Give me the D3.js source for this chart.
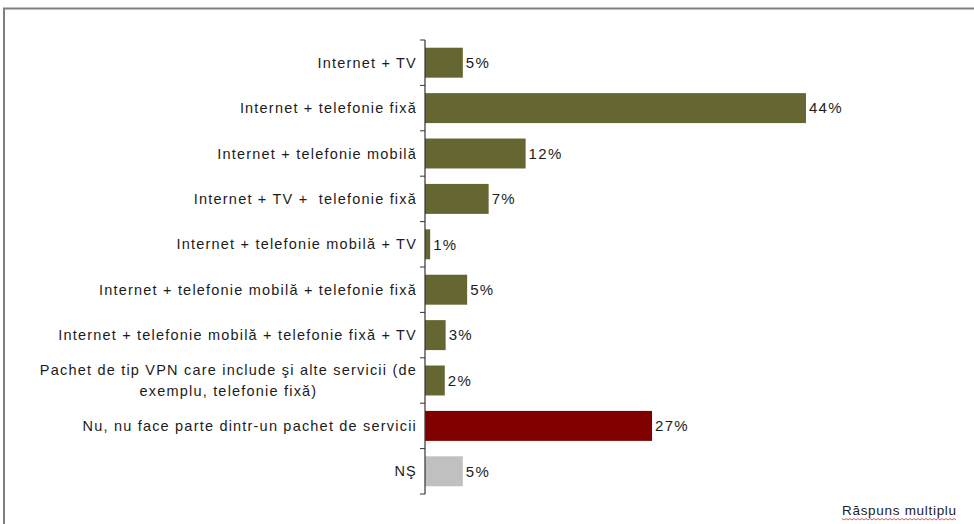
<!DOCTYPE html>
<html>
<head>
<meta charset="utf-8">
<script src="https://cdn.jsdelivr.net/npm/d3@7"></script>
<style>
  html, body { margin: 0; padding: 0; background: #fff; }
  svg { display: block; }
  text { font-family: "Liberation Sans", Arial, sans-serif; fill: #1c1c1c; white-space: pre; }
</style>
</head>
<body>
<svg id="chart"></svg>
<script>
// category labels (top to bottom), "\n" splits a label over two lines
const categories = [
    "Internet + TV",
    "Internet + telefonie fixă",
    "Internet + telefonie mobilă",
    "Internet + TV +  telefonie fixă",
    "Internet + telefonie mobilă + TV",
    "Internet + telefonie mobilă + telefonie fixă",
    "Internet + telefonie mobilă + telefonie fixă + TV",
    "Pachet de tip VPN care include şi alte servicii (de\nexemplu, telefonie fixă)",
    "Nu, nu face parte dintr-un pachet de servicii",
    "NŞ"
];
// bar lengths (percent)
const shares = [4.4, 44.3, 11.7, 7.4, 0.6, 4.9, 2.4, 2.3, 26.4, 4.4];
// printed value labels
const valueLabels = ["5%", "44%", "12%", "7%", "1%", "5%", "3%", "2%", "27%", "5%"];
// fill per bar
const barColors = ["#666633", "#666633", "#666633", "#666633", "#666633",
                   "#666633", "#666633", "#666633", "#800000", "#C0C0C0"];
const footnote = "Răspuns multiplu";

const width = 974, height = 524;
const axisX = 425;

const svg = d3.select("#chart")
    .attr("width", width)
    .attr("height", height);

// outer frame (only top and left edges are in view)
svg.append("path")
    .attr("d", `M4,${height} V8.5 H${width}`)
    .attr("fill", "none")
    .attr("stroke", "#7f7f7f")
    .attr("stroke-width", 2);

const x = d3.scaleLinear()
    .domain([0, 10])
    .range([axisX, axisX + 86]);

const y = d3.scaleBand()
    .domain(categories)
    .range([40, 494])
    .paddingInner(0.34)
    .paddingOuter(0.17);

// bars
svg.selectAll(".bar")
    .data(categories)
    .enter().append("rect")
    .attr("class", "bar")
    .attr("x", x(0))
    .attr("y", d => y(d))
    .attr("width", (d, i) => x(shares[i]) - x(0))
    .attr("height", y.bandwidth())
    .attr("fill", (d, i) => barColors[i]);

// value labels
svg.selectAll(".val")
    .data(categories)
    .enter().append("text")
    .attr("class", "val")
    .attr("x", (d, i) => x(shares[i]) + 3)
    .attr("y", d => y(d) + y.bandwidth() / 2)
    .attr("dy", "0.35em")
    .style("font-size", "15px")
    .style("letter-spacing", "1.3px")
    .text((d, i) => valueLabels[i]);

// category axis
const tickYs = d3.range(categories.length + 1).map(i => 40 + i * (494 - 40) / categories.length);

svg.append("line")
    .attr("x1", axisX).attr("x2", axisX)
    .attr("y1", tickYs[0]).attr("y2", tickYs[tickYs.length - 1])
    .attr("stroke", "#333")
    .attr("stroke-width", 1.2);

svg.selectAll(".tick")
    .data(tickYs)
    .enter().append("line")
    .attr("class", "tick")
    .attr("x1", axisX - 5).attr("x2", axisX)
    .attr("y1", d => d).attr("y2", d => d)
    .attr("stroke", "#333")
    .attr("stroke-width", 1);

const catLabels = svg.selectAll(".cat")
    .data(categories)
    .enter().append("text")
    .attr("class", "cat")
    .style("font-size", "14.5px")
    .style("letter-spacing", "1.2px");

catLabels.each(function(d) {
    const lines = d.split("\n");
    const t = d3.select(this);
    const cy = y(d) + y.bandwidth() / 2;
    if (lines.length === 1) {
        t.attr("x", axisX - 8)
            .attr("y", cy)
            .attr("dy", "0.35em")
            .attr("text-anchor", "end")
            .text(d);
    } else {
        // two-line label: lines centred on each other, block right aligned
        t.attr("text-anchor", "middle");
        const spans = lines.map((s, i) => t.append("tspan")
            .attr("y", cy + (i - (lines.length - 1) / 2) * 21)
            .attr("dy", "0.35em")
            .text(s));
        const w = d3.max(spans, s => s.node().getComputedTextLength());
        spans.forEach(s => s.attr("x", axisX - 8 - w / 2));
    }
});

// footnote with spell-check squiggle
const fn = svg.append("text")
    .attr("x", 842)
    .attr("y", 515)
    .style("font-size", "13.5px")
    .style("letter-spacing", "0.7px")
    .text(footnote);
const fw = fn.node().getComputedTextLength();
const sq = d3.range(0, fw, 2).map((v, i) => [842 + v, 519 + (i % 2 ? 1 : -0.5)]);
svg.append("path")
    .attr("d", d3.line()(sq))
    .attr("fill", "none")
    .attr("stroke", "#e03030")
    .attr("stroke-width", 0.8);
</script>
</body>
</html>
